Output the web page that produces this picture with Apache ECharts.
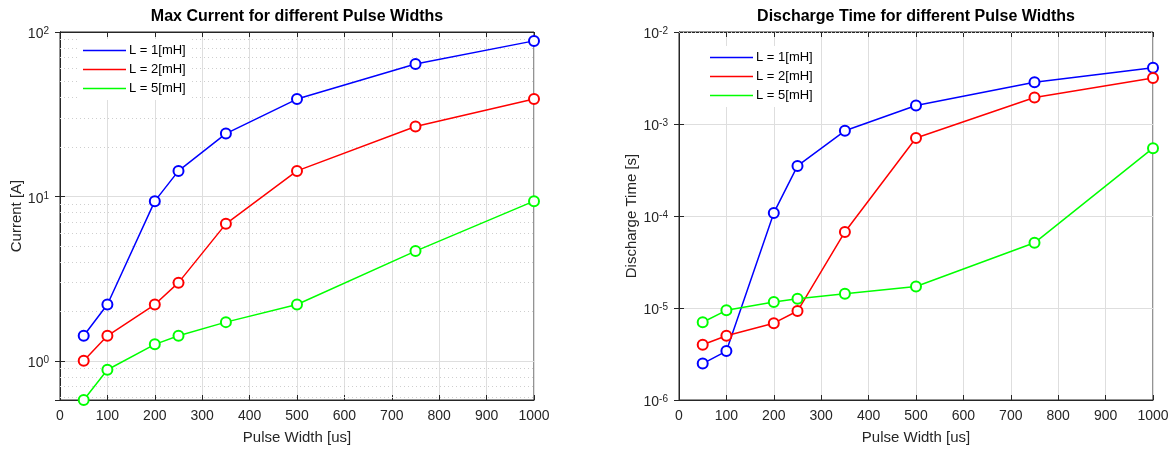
<!DOCTYPE html>
<html>
<head>
<meta charset="utf-8">
<script src="https://cdn.jsdelivr.net/npm/echarts@6/dist/echarts.min.js"></script>
<style>
  html, body { margin: 0; padding: 0; background: #fff; }
  #chart { width: 1172px; height: 450px; }
</style>
</head>
<body>
<div id="chart"></div>
<script>
// 数据
const pulseWidths = [50, 100, 200, 250, 350, 500, 750, 1000]
const seriesNames = ['L = 1[mH]', 'L = 2[mH]', 'L = 5[mH]']
const seriesColors = ['#0000ff', '#ff0000', '#00ff00']

const currentL1 = [1.42, 2.2, 9.36, 14.3, 24.1, 39.1, 63.8, 88.3]
const currentL2 = [1.0, 1.42, 2.2, 2.99, 6.81, 14.3, 26.6, 39.1]
const currentL5 = [0.578, 0.883, 1.26, 1.42, 1.72, 2.2, 4.65, 9.36]

const dischargeL1 = [2.49e-6, 3.4e-6, 1.08e-4, 3.5e-4, 8.43e-4, 1.59e-3, 2.84e-3, 4.08e-3]
const dischargeL2 = [3.98e-6, 5.0e-6, 6.84e-6, 9.27e-6, 6.71e-5, 7.05e-4, 1.94e-3, 3.17e-3]
const dischargeL5 = [7.0e-6, 9.43e-6, 1.16e-5, 1.26e-5, 1.43e-5, 1.71e-5, 5.11e-5, 5.46e-4]

const xTicks = [0, 1000, 100] // min, max, interval
const currentRange = [0.578, 100]
const dischargeRange = [1e-6, 1e-2]

const FONT = '"Liberation Sans", Arial, Helvetica, sans-serif'
const TEXT = '#262626'
const GRID_MAJOR = '#dedede'
const GRID_MINOR = '#cfcfcf'

// 对数轴的次网格线 (2..9 倍)
function minorLines(lo, hi) {
  const out = []
  for (let e = Math.floor(Math.log10(lo)); e < Math.ceil(Math.log10(hi)); e++) {
    for (let k = 2; k <= 9; k++) {
      const v = k * Math.pow(10, e)
      if (v > lo && v < hi) out.push({ yAxis: v })
    }
  }
  return out
}

function powLabel(v) {
  const l = Math.log10(v)
  const e = Math.round(l)
  if (Math.abs(l - e) > 1e-6) return ''
  return '{b|10}{s|' + e + '}'
}

function xAxisFor(gridIndex, position) {
  const main = position === 'bottom'
  return {
    type: 'value', gridIndex, position,
    min: xTicks[0], max: xTicks[1], interval: xTicks[2],
    name: main ? 'Pulse Width [us]' : '',
    nameLocation: 'middle', nameGap: 30,
    nameTextStyle: { fontFamily: FONT, fontSize: 15, color: TEXT },
    axisLine: { show: true, lineStyle: { color: TEXT, width: 1 } },
    axisTick: { show: true, inside: true, length: 5, lineStyle: { color: TEXT } },
    axisLabel: { show: main, margin: 9, fontFamily: FONT, fontSize: 14, color: TEXT, formatter: v => String(v) },
    splitLine: { show: main, lineStyle: { color: GRID_MAJOR, width: 1 } }
  }
}

function yAxisFor(gridIndex, position, range, name, nameGap) {
  const main = position === 'left'
  return {
    type: 'log', logBase: 10, gridIndex, position,
    min: range[0], max: range[1],
    name: main ? name : '',
    nameLocation: 'middle', nameGap,
    nameTextStyle: { fontFamily: FONT, fontSize: 15, color: TEXT },
    axisLine: { show: true, lineStyle: { color: TEXT, width: 1 } },
    axisTick: { show: true, inside: true, length: 5, lineStyle: { color: TEXT } },
    axisLabel: {
      show: main, margin: 11, showMinLabel: range[0] === 1e-6,
      formatter: powLabel,
      rich: {
        b: { fontFamily: FONT, fontSize: 14, color: TEXT, padding: [5, 0, 0, 0] },
        s: { fontFamily: FONT, fontSize: 10, color: TEXT, verticalAlign: 'top', padding: [4, 0, 0, 0] }
      }
    },
    splitLine: { show: main, lineStyle: { color: GRID_MAJOR, width: 1 } }
  }
}

function lineSeries(idx, ys, axisIdx, minor) {
  const s = {
    type: 'line',
    name: seriesNames[idx],
    xAxisIndex: axisIdx, yAxisIndex: axisIdx,
    data: pulseWidths.map((x, i) => [x, ys[i]]),
    symbol: 'emptyCircle', symbolSize: 10,
    lineStyle: { color: seriesColors[idx], width: 1.5 },
    itemStyle: { color: seriesColors[idx], borderColor: seriesColors[idx], borderWidth: 1.5 },
    emphasis: { disabled: true },
    z: 3
  }
  if (minor) {
    s.markLine = {
      silent: true, symbol: 'none', z: 1,
      label: { show: false },
      emphasis: { disabled: true },
      lineStyle: { color: GRID_MINOR, type: [1, 3], width: 1 },
      data: minor
    }
  }
  return s
}

function legendFor(left, top) {
  return {
    orient: 'vertical', left, top,
    data: seriesNames,
    icon: 'rect', itemWidth: 43, itemHeight: 1.5, itemGap: 6,
    itemStyle: { borderWidth: 0 },
    padding: [5, 6, 5, 6],
    backgroundColor: '#fff',
    selectedMode: false,
    textStyle: { fontFamily: FONT, fontSize: 13, color: '#000', padding: [0, 0, 0, -2] }
  }
}

const options = {
  animation: false,
  backgroundColor: '#fff',
  title: [
    { text: 'Max Current for different Pulse Widths', left: 297, top: 9, textAlign: 'center', padding: 0,
      textStyle: { fontFamily: FONT, fontSize: 16, fontWeight: 'bold', color: '#000' } },
    { text: 'Discharge Time for different Pulse Widths', left: 916, top: 9, textAlign: 'center', padding: 0,
      textStyle: { fontFamily: FONT, fontSize: 16, fontWeight: 'bold', color: '#000' } }
  ],
  legend: [legendFor(77, 39), legendFor(704, 46)],
  grid: [
    { left: 60, top: 32, width: 474, height: 373, show: true, borderColor: TEXT, borderWidth: 1 },
    { left: 679, top: 32, width: 474, height: 373, show: true, borderColor: TEXT, borderWidth: 1 }
  ],
  xAxis: [xAxisFor(0, 'bottom'), xAxisFor(1, 'bottom'), xAxisFor(0, 'top'), xAxisFor(1, 'top')],
  yAxis: [
    yAxisFor(0, 'left', currentRange, 'Current [A]', 34),
    yAxisFor(1, 'left', dischargeRange, 'Discharge Time [s]', 37),
    yAxisFor(0, 'right', currentRange, '', 0),
    yAxisFor(1, 'right', dischargeRange, '', 0)
  ],
  series: [
    lineSeries(0, currentL1, 0, minorLines(currentRange[0], currentRange[1])),
    lineSeries(1, currentL2, 0),
    lineSeries(2, currentL5, 0),
    lineSeries(0, dischargeL1, 1, minorLines(dischargeRange[0], dischargeRange[1])),
    lineSeries(1, dischargeL2, 1),
    lineSeries(2, dischargeL5, 1)
  ]
}

const myChart = echarts.init(document.getElementById('chart'))
myChart.setOption(options)
</script>
</body>
</html>
